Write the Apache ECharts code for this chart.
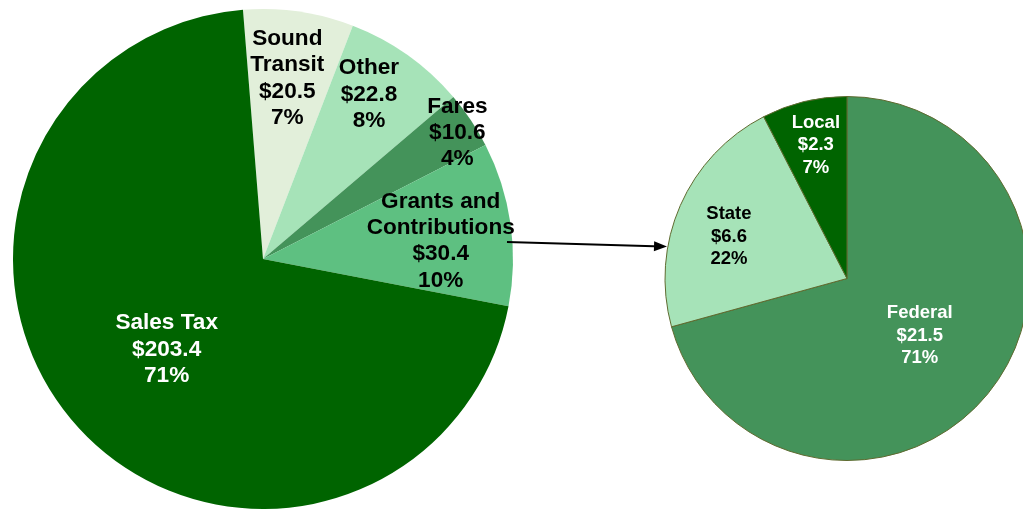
<!DOCTYPE html>
<html>
<head>
<meta charset="utf-8">
<script src="https://cdn.jsdelivr.net/npm/echarts@6/dist/echarts.min.js"></script>
<style>
  html, body { margin: 0; padding: 0; background: #ffffff; }
  #chart { width: 1023px; height: 510px; }
</style>
</head>
<body>
<div id="chart"></div>
<script>
// Revenue sources ($ millions)
const revenueNames = ['Sound\nTransit', 'Other', 'Fares', 'Grants and\nContributions', 'Sales Tax'];
const revenueValues = [20.5, 22.8, 10.6, 30.4, 203.4];

// Breakdown of grants and contributions ($ millions)
const grantNames = ['Federal', 'State', 'Local'];
const grantValues = [21.5, 6.6, 2.3];

// Slice colours and label placement
const revenueColors = ['#e2efda', '#a6e3b8', '#44935a', '#5ec081', '#006400'];
const revenueTextColors = ['#000', '#000', '#000', '#000', '#fff'];
const revenueLabelOffsets = [[6, -54], [32, -60], [88, -55], [51, 0], [-1, 5]];

const grantColors = ['#44935a', '#a6e3b8', '#006400'];
const grantTextColors = ['#fff', '#000', '#fff'];
const grantLabelOffsets = [[-2, 0], [-32, -4], [-9, -42]];

const bigPie = { cx: 263, cy: 259, r: 250 };
const smallPie = { cx: 847, cy: 278.5, r: 182 };

const fontFamily = '"Liberation Sans", Arial, sans-serif';

function buildData(names, values, colors, textColors, offsets) {
  return names.map((n, i) => ({
    name: n,
    value: values[i],
    itemStyle: { color: colors[i] },
    label: { color: textColors[i], offset: offsets[i] }
  }));
}

const chart = echarts.init(document.getElementById('chart'), null, { renderer: 'canvas' });

// Connector arrow from the grants slice to the breakdown pie
const arrowStart = [507, 242];
const arrowTip = [smallPie.cx - smallPie.r + 2, 246.5];
const headLen = 13, headHalf = 5;
const ang = Math.atan2(arrowTip[1] - arrowStart[1], arrowTip[0] - arrowStart[0]);
const base = [arrowTip[0] - headLen * Math.cos(ang), arrowTip[1] - headLen * Math.sin(ang)];
const headPts = [
  arrowTip,
  [base[0] + headHalf * Math.sin(ang), base[1] - headHalf * Math.cos(ang)],
  [base[0] - headHalf * Math.sin(ang), base[1] + headHalf * Math.cos(ang)]
];

const labelFormatter = p => p.name + '\n$' + p.value.toFixed(1) + '\n' + p.percent + '%';

chart.setOption({
  animation: false,
  backgroundColor: '#ffffff',
  series: [
    {
      type: 'pie',
      center: [bigPie.cx, bigPie.cy],
      radius: [0, bigPie.r],
      startAngle: 94.6,
      clockwise: true,
      percentPrecision: 0,
      avoidLabelOverlap: false,
      itemStyle: { borderWidth: 0 },
      label: {
        show: true,
        position: 'inside',
        formatter: labelFormatter,
        fontFamily: fontFamily,
        fontWeight: 'bold',
        fontSize: 22.6,
        lineHeight: 26.3,
        align: 'center'
      },
      labelLine: { show: false },
      emphasis: { disabled: true },
      data: buildData(revenueNames, revenueValues, revenueColors, revenueTextColors, revenueLabelOffsets)
    },
    {
      type: 'pie',
      center: [smallPie.cx, smallPie.cy],
      radius: [0, smallPie.r],
      startAngle: 90,
      clockwise: true,
      percentPrecision: 0,
      avoidLabelOverlap: false,
      itemStyle: { borderWidth: 1, borderColor: '#5f6b30' },
      label: {
        show: true,
        position: 'inside',
        formatter: labelFormatter,
        fontFamily: fontFamily,
        fontWeight: 'bold',
        fontSize: 18.5,
        lineHeight: 22.5,
        align: 'center'
      },
      labelLine: { show: false },
      emphasis: { disabled: true },
      data: buildData(grantNames, grantValues, grantColors, grantTextColors, grantLabelOffsets)
    }
  ],
  graphic: [
    {
      type: 'line',
      z: 100,
      shape: { x1: arrowStart[0], y1: arrowStart[1], x2: base[0], y2: base[1] },
      style: { stroke: '#000', lineWidth: 2 }
    },
    {
      type: 'polygon',
      z: 100,
      shape: { points: headPts },
      style: { fill: '#000' }
    }
  ]
});
</script>
</body>
</html>
